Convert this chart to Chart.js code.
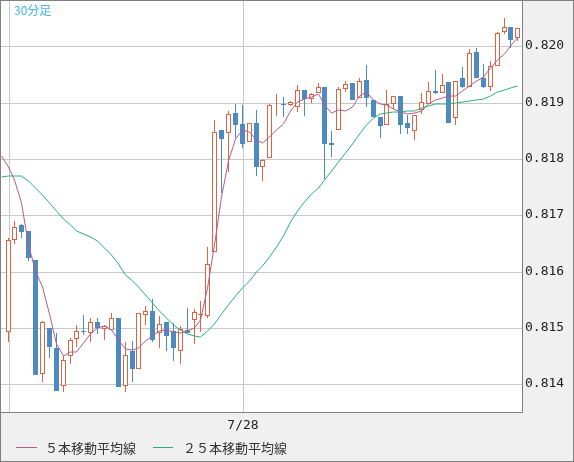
<!DOCTYPE html>
<html><head><meta charset="utf-8">
<script src="https://cdn.jsdelivr.net/npm/chart.js@4.4.1/dist/chart.umd.min.js"></script>
<style>html,body{margin:0;padding:0;background:#f0f0f0;}canvas{display:block}</style>
</head><body>
<canvas id="c" width="574" height="462"></canvas>
<script>
// ---- data ----
const chartTitle = '30分足';
const ma5Label = '５本移動平均線';
const ma25Label = '２５本移動平均線';

const opens = [0.81493,0.81657,0.81682,0.81673,0.81621,0.81419,0.81500,0.81465,0.81398,0.81451,
  0.81480,0.81495,0.81492,0.81511,0.81499,0.81496,0.81518,0.81397,0.81460,0.81428,
  0.81524,0.81530,0.81491,0.81510,0.81495,0.81460,0.81496,0.81514,0.81524,0.81522,
  0.81635,0.81851,0.81847,0.81882,0.81862,0.81830,0.81864,0.81785,0.81801,0.81895,
  0.81898,0.81896,0.81892,0.81922,0.81906,0.81917,0.81928,0.81828,0.81851,0.81925,
  0.81935,0.81908,0.81940,0.81905,0.81875,0.81860,0.81897,0.81912,0.81864,0.81850,
  0.81887,0.81897,0.81921,0.81917,0.81937,0.81872,0.81944,0.81927,0.81990,0.81944,
  0.81927,0.81965,0.82025,0.82034,0.82014];
const highs = [0.81660,0.81690,0.81684,0.81673,0.81621,0.81512,0.81500,0.81491,0.81451,0.81483,
  0.81505,0.81523,0.81518,0.81518,0.81505,0.81527,0.81518,0.81476,0.81477,0.81526,
  0.81539,0.81551,0.81521,0.81510,0.81509,0.81504,0.81536,0.81534,0.81548,0.81644,
  0.81870,0.81851,0.81885,0.81898,0.81896,0.81864,0.81887,0.81800,0.81898,0.81915,
  0.81910,0.81903,0.81931,0.81922,0.81918,0.81935,0.81928,0.81850,0.81928,0.81938,
  0.81935,0.81944,0.81966,0.81905,0.81875,0.81922,0.81911,0.81912,0.81878,0.81878,
  0.81917,0.81937,0.81958,0.81951,0.81937,0.81938,0.81964,0.81995,0.81997,0.81969,
  0.81974,0.82025,0.82050,0.82034,0.82033];
const lows = [0.81476,0.81649,0.81659,0.81619,0.81417,0.81405,0.81446,0.81389,0.81387,0.81437,
  0.81467,0.81488,0.81475,0.81489,0.81479,0.81496,0.81396,0.81386,0.81405,0.81428,
  0.81505,0.81476,0.81464,0.81460,0.81442,0.81436,0.81491,0.81471,0.81493,0.81518,
  0.81635,0.81739,0.81777,0.81838,0.81819,0.81830,0.81769,0.81761,0.81801,0.81876,
  0.81874,0.81894,0.81884,0.81877,0.81899,0.81917,0.81764,0.81804,0.81851,0.81919,
  0.81905,0.81908,0.81893,0.81874,0.81838,0.81860,0.81889,0.81844,0.81845,0.81834,
  0.81879,0.81897,0.81916,0.81917,0.81864,0.81861,0.81926,0.81927,0.81944,0.81926,
  0.81920,0.81965,0.82022,0.81997,0.82009];
const closes = [0.81656,0.81679,0.81670,0.81625,0.81417,0.81510,0.81467,0.81389,0.81443,0.81479,
  0.81494,0.81493,0.81510,0.81500,0.81504,0.81518,0.81396,0.81452,0.81428,0.81526,
  0.81530,0.81479,0.81507,0.81486,0.81465,0.81498,0.81491,0.81528,0.81525,0.81614,
  0.81848,0.81836,0.81879,0.81861,0.81826,0.81864,0.81785,0.81798,0.81896,0.81896,
  0.81895,0.81901,0.81922,0.81907,0.81916,0.81927,0.81826,0.81825,0.81925,0.81933,
  0.81905,0.81938,0.81908,0.81874,0.81859,0.81897,0.81911,0.81861,0.81855,0.81878,
  0.81901,0.81921,0.81918,0.81931,0.81864,0.81938,0.81927,0.81989,0.81944,0.81927,
  0.81965,0.82023,0.82034,0.82012,0.82032];

// moving averages, starting one bar before the first visible candle
const maFirstIndex = -1;
const ma5 = [0.81805,0.81786,0.81763,0.81722,0.81647,0.81601,0.81573,0.81525,0.81472,0.81450,0.81457,
  0.81457,0.81473,0.81489,0.81500,0.81503,0.81496,0.81479,0.81463,0.81461,0.81464,
  0.81477,0.81486,0.81495,0.81497,0.81493,0.81491,0.81494,0.81500,0.81514,0.81571,
  0.81647,0.81733,0.81796,0.81835,0.81851,0.81848,0.81834,0.81828,0.81839,0.81851,
  0.81862,0.81885,0.81901,0.81906,0.81910,0.81916,0.81896,0.81882,0.81887,0.81885,
  0.81892,0.81912,0.81919,0.81905,0.81898,0.81896,0.81889,0.81883,0.81880,0.81881,
  0.81885,0.81897,0.81904,0.81909,0.81911,0.81912,0.81920,0.81929,0.81938,0.81946,
  0.81962,0.81976,0.81987,0.82000,0.82015];
const ma25 = [0.81768,0.81770,0.81770,0.81770,0.81761,0.81749,0.81736,0.81722,0.81707,0.81694,0.81683,
  0.81673,0.81667,0.81661,0.81654,0.81642,0.81630,0.81614,0.81595,0.81583,0.81572,
  0.81559,0.81544,0.81530,0.81517,0.81506,0.81496,0.81490,0.81485,0.81484,0.81495,
  0.81508,0.81525,0.81541,0.81557,0.81571,0.81583,0.81599,0.81610,0.81626,0.81644,
  0.81663,0.81688,0.81708,0.81724,0.81738,0.81749,0.81763,0.81779,0.81794,0.81811,
  0.81827,0.81844,0.81860,0.81873,0.81879,0.81882,0.81883,0.81884,0.81885,0.81886,
  0.81891,0.81894,0.81897,0.81897,0.81898,0.81899,0.81901,0.81903,0.81904,0.81906,
  0.81911,0.81919,0.81923,0.81926,0.81930];

const xTickIndex = [0, 34];
const xTickLabels = ['', '7/28'];
const yTickValues = [0.814, 0.815, 0.816, 0.817, 0.818, 0.819, 0.820];

// ---- styles ----
const UP = '#dc6440', DOWN = '#4b8bbf';
const MA5C = '#b45a8c', MA25C = '#26b07c';
const GRID = '#c8c8c8', FRAME = '#808080';

const isUp = closes.map((c, i) => c >= opens[i]);
const bodyData = opens.map((o, i) => ({x: i, y: [o, closes[i]]}));
const wickData = highs.map((h, i) => ({x: i, y: [lows[i], h]}));
const ma5Data = ma5.map((v, i) => ({x: i + maFirstIndex, y: v}));
const ma25Data = ma25.map((v, i) => ({x: i + maFirstIndex, y: v}));

const framePlugin = {
  id: 'frame',
  beforeDraw(chart) {
    const {ctx, chartArea: a} = chart;
    ctx.save();
    ctx.fillStyle = '#f0f0f0';
    ctx.fillRect(0, 0, chart.width, chart.height);
    ctx.fillStyle = '#ffffff';
    ctx.fillRect(a.left, a.top, a.right - a.left, a.bottom - a.top);
    ctx.restore();
  },
  beforeDatasetsDraw(chart) {
    // shift marks by half a pixel so 1px wicks and odd-width bodies land on whole pixels
    chart.ctx.save();
    chart.ctx.translate(-0.5, 0);
  },
  afterDatasetsDraw(chart) {
    chart.ctx.restore();
  },
  afterDraw(chart) {
    const {ctx, chartArea: a} = chart;
    ctx.save();
    ctx.strokeStyle = FRAME; ctx.lineWidth = 1;
    ctx.strokeRect(a.left - 0.5, a.top - 0.5, a.right - a.left + 1, a.bottom - a.top + 1);
    ctx.strokeRect(0.5, 0.5, chart.width - 1, chart.height - 1);
    // title
    ctx.fillStyle = '#3db5e6';
    ctx.font = '12px "Noto Sans CJK JP", sans-serif';
    ctx.textBaseline = 'middle';
    ctx.textAlign = 'left';
    ctx.fillText(chartTitle, 14, 10);
    // legend
    const ly = 447;
    const items = [[ma5Label, MA5C, 16, 37, 45], [ma25Label, MA25C, 153, 173, 183]];
    ctx.font = '13px "Noto Sans CJK JP", sans-serif';
    for (const [t, col, x0, x1, tx] of items) {
      ctx.strokeStyle = col; ctx.lineWidth = 1;
      ctx.beginPath(); ctx.moveTo(x0, ly + 0.5); ctx.lineTo(x1, ly + 0.5); ctx.stroke();
      ctx.fillStyle = '#333333';
      ctx.fillText(t, tx, ly + 1);
    }
    ctx.restore();
  }
};

new Chart(document.getElementById('c').getContext('2d'), {
  type: 'bar',
  data: {
    datasets: [
      {type: 'line', label: ma5Label, data: ma5Data, borderColor: MA5C, borderWidth: 1,
       pointRadius: 0, tension: 0, order: 0},
      {type: 'line', label: ma25Label, data: ma25Data, borderColor: MA25C, borderWidth: 1,
       pointRadius: 0, tension: 0, order: 1},
      {label: 'body', data: bodyData, backgroundColor: isUp.map(u => u ? '#ffffff' : DOWN),
       borderColor: isUp.map(u => u ? UP : DOWN), borderWidth: 1, borderSkipped: false,
       barThickness: 5, grouped: false, order: 2, inflateAmount: 0},
      {label: 'wick', data: wickData, backgroundColor: isUp.map(u => u ? UP : DOWN),
       borderWidth: 0, barThickness: 1, grouped: false, order: 3, inflateAmount: 0}
    ]
  },
  options: {
    responsive: false, animation: false,
    layout: {padding: {top: 1, left: 1, right: 0, bottom: 0}},
    plugins: {legend: {display: false}, tooltip: {enabled: false}},
    scales: {
      x: {
        type: 'linear', min: -1.0887, max: 74.537, offset: false, alignToPixels: true,
        afterBuildTicks: s => { s.ticks = xTickIndex.map(v => ({value: v})); },
        ticks: {
          autoSkip: false, maxRotation: 0, padding: 6, color: '#222',
          font: {family: 'DejaVu Sans Mono', size: 13},
          callback: v => { const k = xTickIndex.indexOf(v); return k >= 0 ? xTickLabels[k] : ''; }
        },
        grid: {color: GRID, drawTicks: false, offset: false},
        border: {display: false},
        afterFit: s => { s.height = 50; s.paddingLeft = 0; s.paddingRight = 0; }
      },
      y: {
        position: 'right', min: 0.81351, max: 0.820804, alignToPixels: true,
        afterBuildTicks: s => { s.ticks = yTickValues.map(v => ({value: v})); },
        ticks: {
          padding: 3, color: '#222',
          font: {family: 'DejaVu Sans Mono', size: 13},
          callback: v => Number(v).toFixed(3)
        },
        grid: {color: GRID, drawTicks: false},
        border: {display: false},
        afterFit: s => { s.width = 52; s.paddingTop = 0; s.paddingBottom = 0; }
      }
    }
  },
  plugins: [framePlugin]
});
</script>
</body></html>
